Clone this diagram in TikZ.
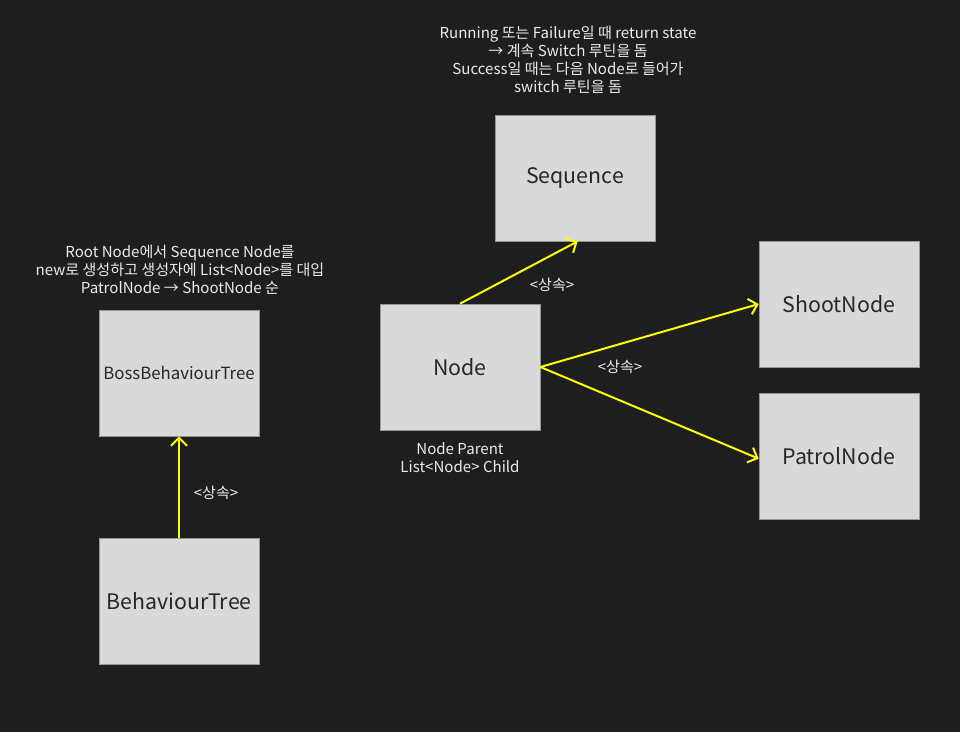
\documentclass[tikz,border=0pt]{standalone}
\usepackage{fontspec}
\setmainfont{Noto Sans CJK KR}
\usepackage{tikz}
\usetikzlibrary{arrows.meta,positioning}
\definecolor{bgdark}{RGB}{30,30,30}
\definecolor{boxgray}{RGB}{217,217,217}
\definecolor{boxline}{RGB}{150,150,150}
\definecolor{inherit}{RGB}{255,255,0}

\begin{document}
\begin{tikzpicture}[x=0.75pt,y=-0.75pt,
    cls/.style={rectangle,fill=boxgray,draw=boxline,line width=0.5pt,
      minimum width=120pt,minimum height=94.5pt,inner sep=0pt,
      font=\fontsize{16}{18}\selectfont,text=black!85},
    note/.style={align=center,text=white!92!black,font=\fontsize{11.3}{13.6}\selectfont},
    ext/.style={-{Straight Barb[length=6pt,width=12pt]},line width=1.5pt,inherit}]
    % Background
    \fill[bgdark] (0,0) rectangle (960,732);
    \useasboundingbox (0,0) rectangle (960,732);
    % Classes
    \node[cls] (seq) at (575,178) {Sequence};
    \node[cls] (node) at (460,367) {Node};
    \node[cls] (shoot) at (839,304) {ShootNode};
    \node[cls] (patrol) at (839,456) {PatrolNode};
    \node[cls,font=\fontsize{12.6}{14}\selectfont] (boss) at (179,373) {BossBehaviourTree};
    \node[cls] (bt) at (179,601) {BehaviourTree};
    % Inheritance
    \draw[ext] (node.north) -- ([xshift=2pt]seq.south);
    \draw[ext] (node.east) -- (shoot.west);
    \draw[ext] (node.east) -- ([yshift=-2pt]patrol.west);
    \draw[ext] (bt.north) -- (boss.south);
    \node[note] (lseq) at (552,285) {<상속>};
    \node[note] (lkid) at (620,367) {<상속>};
    \node[note] (lbt) at (216,493) {<상속>};
    % Notes
    \node[note] (nseq) at (568,60) {Running 또는 Failure일 때 return state\\
      → 계속 Switch 루틴을 돔\\
      Success일 때는 다음 Node로 들어가\\
      switch 루틴을 돔};
    \node[note] (nboss) at (180,270) {Root Node에서 Sequence Node를\\
      new로 생성하고 생성자에 List<Node>를 대입\\
      PatrolNode → ShootNode 순};
    \node[note] (nnode) at (460,458) {Node Parent\\List<Node> Child};
\end{tikzpicture}
\end{document}
